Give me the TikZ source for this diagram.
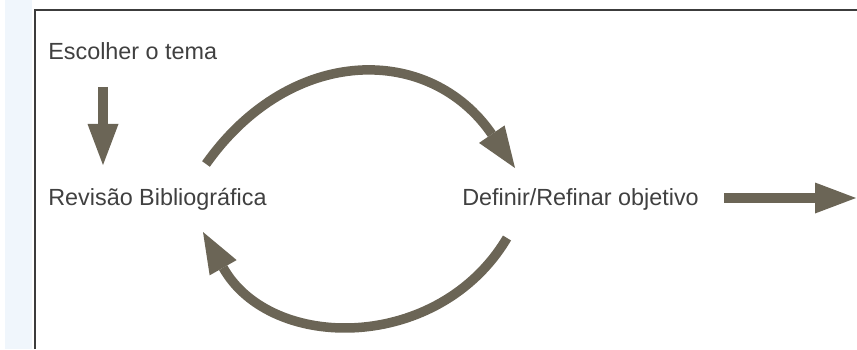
\documentclass[tikz,border=0pt]{standalone}
\usepackage{fontspec}
\setmainfont{Liberation Sans}
\usepackage{tikz}
\usetikzlibrary{arrows.meta, calc}
\definecolor{arrowgray}{RGB}{107,101,86}
\definecolor{framegray}{RGB}{60,60,60}
\definecolor{scanblue}{RGB}{240,246,252}
\tikzset{
    label/.style={font=\fontsize{13.3}{15}\selectfont, text=black!75, inner sep=0pt}, % preset style for the texts
    bigarrow/.style={draw=arrowgray, line width=0.19cm,
        -{Triangle[length=0.82cm, width=0.62cm, line width=0pt]}}, % preset style for a thick arrow
}

\begin{document}
\begin{tikzpicture}
        \useasboundingbox (0, 0) rectangle (17.14, 6.98);
        \fill[fill=scanblue] (0.1, 0) rectangle (0.64, 6.98);
        \draw[framegray, line width=0.04cm] (0.7, 0) -- (0.7, 6.77) -- (17.14, 6.77);
        \node[label, anchor=base west] (tema) at (0.96, 5.78) {Escolher o tema};
        \node[label, anchor=base west] (revisao) at (0.96, 2.88) {Revisão Bibliográfica};
        \node[label, anchor=base west] (objetivo) at (9.24, 2.88) {Definir/Refinar objetivo};
        \coordinate (down) at (2.06, 5.24);
        \coordinate (downtip) at (2.06, 3.68);
        \coordinate (topstart) at (4.12, 3.70);
        \coordinate (topend) at (10.30, 3.62);
        \coordinate (botstart) at (10.14, 2.22);
        \coordinate (botend) at (4.06, 2.34);
        \coordinate (out) at (17.12, 3.02);
        \draw[bigarrow] (down) -- (downtip);
        \draw[bigarrow] (topstart) .. controls (5.82, 6.1) and (8.6, 6.1) .. (topend);
        \draw[bigarrow] (botstart) .. controls (8.78, -0.07) and (5.42, -0.07) .. (botend);
        \draw[bigarrow] ([xshift=0.5cm]objetivo.east |- out) -- (out);
    \end{tikzpicture}
\end{document}
